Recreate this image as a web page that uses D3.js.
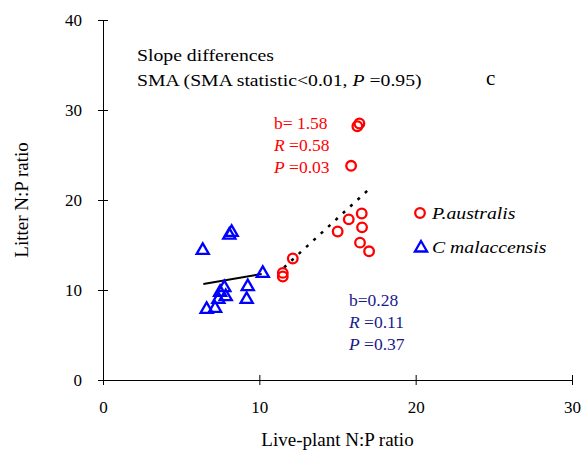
<!DOCTYPE html>
<html>
<head>
<meta charset="utf-8">
<script src="https://cdn.jsdelivr.net/npm/d3@7"></script>
<style>
  body { margin: 0; background: #fff; }
</style>
</head>
<body>
<div id="chart"></div>
<script>
  // P. australis points (live-plant N:P, litter N:P)
  const australisX = [16.27, 16.4, 15.87, 16.55, 15.72, 15.01, 16.57, 16.44, 17.02, 12.14, 11.5, 11.5];
  const australisY = [28.2, 28.5, 23.8, 18.5, 17.85, 16.5, 16.96, 15.26, 14.3, 13.5, 11.9, 11.5];

  // C. malaccensis points
  const malaccX = [8.23, 8.08, 6.38, 10.22, 9.26, 9.19, 7.76, 7.85, 7.49, 7.38, 7.17, 6.63];
  const malaccY = [16.4, 16.1, 14.4, 11.85, 10.37, 8.96, 10.26, 9.26, 9.74, 8.96, 7.96, 7.85];

  // SMA fitted lines (endpoints)
  const lineAustralisX = [11.58, 16.91];
  const lineAustralisY = [12.5, 21.03];
  const lineMalaccX = [6.42, 10.15];
  const lineMalaccY = [10.67, 11.78];

  const xTicks = [0, 10, 20, 30];
  const yTicks = [0, 10, 20, 30, 40];

  const FONT = "'Liberation Serif', 'Times New Roman', Times, serif";
  const width = 582, height = 457;
  const stretch = 1.16; // header and legend text is wider in the original

  const svg = d3.select("#chart").append("svg")
    .attr("width", width)
    .attr("height", height)
    .style("font-family", FONT);

  const x = d3.scaleLinear().domain([0, 30]).range([103, 572]);
  const y = d3.scaleLinear().domain([0, 40]).range([380, 20]);

  // axes, ticks crossing the line
  svg.append("g")
    .attr("transform", "translate(0," + y(0) + ")")
    .call(d3.axisBottom(x).tickValues(xTicks).tickSize(5).tickSizeOuter(0).tickPadding(16))
    .attr("font-family", null)
    .call(g => g.selectAll(".tick line").attr("y1", -5).attr("y2", 5))
    .call(g => g.selectAll(".tick text").attr("font-size", 17).attr("fill", "#000").style("font-family", FONT))
    .call(g => g.select(".domain").attr("stroke", "#000"));

  svg.append("g")
    .attr("transform", "translate(" + x(0) + ",0)")
    .call(d3.axisLeft(y).tickValues(yTicks).tickSize(5).tickSizeOuter(0).tickPadding(16))
    .attr("font-family", null)
    .call(g => g.selectAll(".tick line").attr("x1", -5).attr("x2", 5))
    .call(g => g.selectAll(".tick text").attr("font-size", 17).attr("fill", "#000").style("font-family", FONT))
    .call(g => g.select(".domain").attr("stroke", "#000"));

  // axis labels
  svg.append("text")
    .attr("x", (x(0) + x(30)) / 2)
    .attr("y", 446)
    .attr("text-anchor", "middle")
    .attr("font-size", 19)
    .text("Live-plant N:P ratio");

  svg.append("text")
    .attr("transform", "translate(28," + y(20) + ") rotate(-90)")
    .attr("text-anchor", "middle")
    .attr("font-size", 19)
    .text("Litter N:P ratio");

  // fitted lines
  const lineGen = d3.line().x(d => x(d[0])).y(d => y(d[1]));

  svg.append("path")
    .attr("d", lineGen(d3.zip(lineAustralisX, lineAustralisY)))
    .attr("fill", "none")
    .attr("stroke", "#000")
    .attr("stroke-width", 2.5)
    .attr("stroke-dasharray", "3,7");

  svg.append("path")
    .attr("d", lineGen(d3.zip(lineMalaccX, lineMalaccY)))
    .attr("fill", "none")
    .attr("stroke", "#000")
    .attr("stroke-width", 2);

  // triangles
  const tri = d3.symbol().type(d3.symbolTriangle).size(64);
  svg.selectAll(".tri")
    .data(d3.zip(malaccX, malaccY))
    .enter()
    .append("path")
    .attr("class", "tri")
    .attr("d", tri)
    .attr("transform", d => "translate(" + x(d[0]) + "," + y(d[1]) + ")")
    .attr("fill", "none")
    .attr("stroke", "#0000ff")
    .attr("stroke-width", 2.3);

  // circles
  svg.selectAll(".circ")
    .data(d3.zip(australisX, australisY))
    .enter()
    .append("circle")
    .attr("class", "circ")
    .attr("cx", d => x(d[0]))
    .attr("cy", d => y(d[1]))
    .attr("r", 4.8)
    .attr("fill", "none")
    .attr("stroke", "#ff0000")
    .attr("stroke-width", 2.3);

  // stretched text helper
  function wideText(x0, y0, size) {
    return svg.append("g")
      .attr("transform", "translate(" + x0 + "," + y0 + ") scale(" + stretch + ",1)")
      .append("text")
      .attr("font-size", size);
  }

  // header text
  wideText(137, 61, 17).text("Slope differences");

  const sma = wideText(137, 86, 17);
  sma.append("tspan").text("SMA (SMA statistic<0.01, ");
  sma.append("tspan").attr("font-style", "italic").text("P");
  sma.append("tspan").text(" =0.95)");

  svg.append("text")
    .attr("x", 486).attr("y", 85)
    .attr("font-size", 21)
    .text("c");

  // stat blocks
  function statBlock(x0, y0, color, b, r, p) {
    const g = svg.append("g").attr("fill", color).attr("font-size", 17.5);
    g.append("text").attr("x", x0).attr("y", y0).text(b);
    const t1 = g.append("text").attr("x", x0).attr("y", y0 + 22);
    t1.append("tspan").attr("font-style", "italic").text("R");
    t1.append("tspan").text(" =" + r);
    const t2 = g.append("text").attr("x", x0).attr("y", y0 + 44);
    t2.append("tspan").attr("font-style", "italic").text("P");
    t2.append("tspan").text(" =" + p);
  }
  statBlock(274, 129, "#ff0000", "b= 1.58", "0.58", "0.03");
  statBlock(349, 306, "#1a1a8c", "b=0.28", "0.11", "0.37");

  // legend
  svg.append("circle")
    .attr("cx", 420).attr("cy", 213).attr("r", 4.8)
    .attr("fill", "none").attr("stroke", "#ff0000").attr("stroke-width", 2.3);
  wideText(432, 219, 17).attr("font-style", "italic").text("P.australis");

  svg.append("path")
    .attr("d", tri)
    .attr("transform", "translate(421,248)")
    .attr("fill", "none").attr("stroke", "#0000ff").attr("stroke-width", 2.3);
  wideText(432, 253, 17).attr("font-style", "italic").text("C malaccensis");
</script>
</body>
</html>
